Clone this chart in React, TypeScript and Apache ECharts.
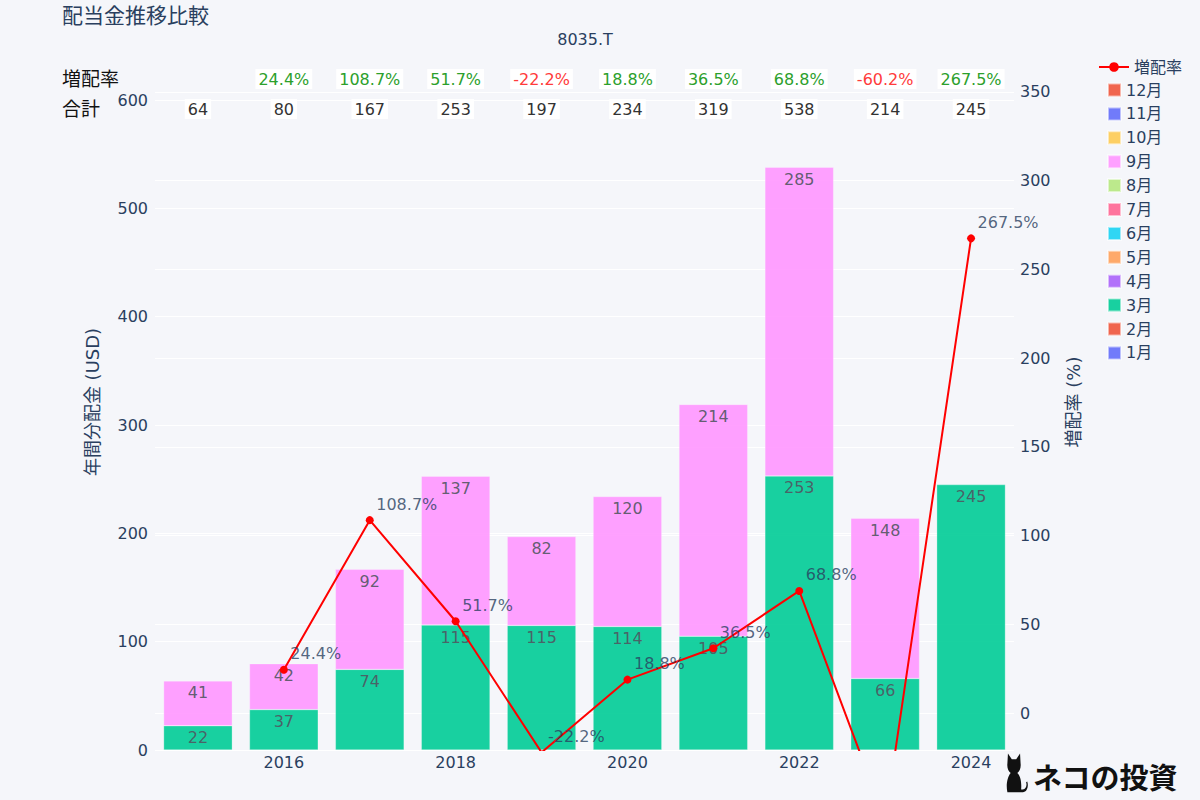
import React, { useEffect, useRef } from "react";
import * as echarts from "echarts";

const years = ["2015", "2016", "2017", "2018", "2019", "2020", "2021", "2022", "2023", "2024"];
const months = ["1月", "2月", "3月", "4月", "5月", "6月", "7月", "8月", "9月", "10月", "11月", "12月"];
const monthColors = ["#636EFA", "#EF553B", "#00CC96", "#AB63FA", "#FFA15A", "#19D3F3", "#FF6692", "#B6E880", "#FF97FF", "#FECB52", "#636EFA", "#EF553B"];
const march = [22.4, 37.3, 74.4, 115.4, 115, 114, 105, 253, 66, 245];
const september = [41.4, 42.4, 92.4, 137.4, 82, 120, 214, 285, 148, null];
const totals = [64, 80, 167, 253, 197, 234, 319, 538, 214, 245];
const growth = [null, 24.4, 108.7, 51.7, -22.2, 18.8, 36.5, 68.8, -60.2, 267.5];
const leftTicks = [0, 100, 200, 300, 400, 500, 600];
const rightTicks = [0, 50, 100, 150, 200, 250, 300, 350];

const LEFT_MIN = 0;
const LEFT_MAX = 642.5;
const RIGHT_MIN = -20.85;
const RIGHT_MAX = 371.4;

const TEXT = "#2a3f5f";
const BG = "#f5f6fa";
const FONT = "'DejaVu Sans', 'Noto Sans CJK JP', sans-serif";

const catPath =
  "M8 16 L9 2 L16 10 L24 10 L31 2 L32 16 C33 22 30 27 26 29 C32 33 34 42 33 52 L36 52 C42 52 44 46 42 42 L44 41 C47 47 44 56 36 56 L8 56 C5 46 8 34 14 29 C10 27 7 22 8 16 Z";
echarts.graphic.registerShape("cat", echarts.graphic.extendPath(catPath, {}) as any);

export default function App() {
  const ref = useRef<HTMLDivElement>(null);
  useEffect(() => {
    document.body.style.margin = "0";
    const chart = echarts.init(ref.current!, null, { renderer: "svg" });
    const monthData: Record<string, (number | null)[]> = {
      "3月": march,
      "9月": september,
    };
    const barSeries = months.map((m, i) => {
      const d = monthData[m] || years.map(() => null);
      const s: any = {
        name: m,
        type: "bar",
        stack: "total",
        yAxisIndex: 0,
        barWidth: "80%",
        data: d,
        itemStyle: { color: monthColors[i], opacity: 0.9, borderColor: "rgba(255,255,255,0.6)", borderWidth: 0.5 },
        label: {
          show: !!monthData[m],
          position: "insideTop",
          distance: 4,
          color: "#505560",
          fontSize: 16,
          fontFamily: FONT,
          formatter: (p: any) => (p.value == null ? "" : String(Math.round(p.value))),
        },
        z: 2,
      };
      if (i === 0) {
        s.markLine = {
          silent: true,
          symbol: "none",
          z: 1,
          label: { show: false },
          lineStyle: { color: "#ffffff", width: 1, type: "solid" },
          data: leftTicks.map((v) => ({ yAxis: v })),
        };
      }
      return s;
    });
    const option: any = {
      animation: false,
      backgroundColor: BG,
      textStyle: { fontFamily: FONT },
      grid: { left: 155, right: 186, top: 54, bottom: 50 },
      legend: [
        {
          data: ["増配率"],
          orient: "vertical",
          left: 1098,
          top: 59,
          padding: 0,
          itemWidth: 30,
          itemHeight: 12,
          textStyle: { color: TEXT, fontSize: 16, fontFamily: FONT },
        },
        {
          data: months.slice().reverse(),
          orient: "vertical",
          left: 1107,
          top: 82,
          padding: 0,
          icon: "rect",
          itemWidth: 13,
          itemHeight: 13,
          itemGap: 7.9,
          textStyle: { color: TEXT, fontSize: 16, fontFamily: FONT },
        },
      ],
      xAxis: {
        type: "category",
        data: years,
        axisLine: { show: false },
        axisTick: { show: false },
        axisLabel: {
          interval: (idx: number) => idx % 2 === 1,
          color: TEXT,
          fontSize: 16,
          margin: 4,
        },
      },
      yAxis: [
        {
          type: "value",
          min: LEFT_MIN,
          max: LEFT_MAX,
          name: "年間分配金 (USD)",
          nameLocation: "middle",
          nameGap: 54,
          nameTextStyle: { color: TEXT, fontSize: 18, fontFamily: FONT },
          axisLine: { show: false },
          axisTick: { show: false },
          axisLabel: { color: TEXT, fontSize: 16, margin: 7, customValues: leftTicks },
          splitLine: { show: false },
        },
        {
          type: "value",
          min: RIGHT_MIN,
          max: RIGHT_MAX,
          name: "増配率 (%)",
          nameLocation: "middle",
          nameGap: 50,
          nameTextStyle: { color: TEXT, fontSize: 18, fontFamily: FONT },
          axisLine: { show: false },
          axisTick: { show: false },
          axisLabel: { color: TEXT, fontSize: 16, margin: 6, customValues: rightTicks },
          splitLine: { show: false },
        },
      ],
      series: [
        ...barSeries,
        {
          name: "増配率",
          type: "line",
          yAxisIndex: 1,
          data: growth,
          connectNulls: false,
          symbol: "circle",
          symbolSize: 8,
          lineStyle: { color: "#ff0000", width: 2 },
          itemStyle: { color: "#ff0000" },
          clip: true,
          z: 4,
        },
        {
          name: "_labels",
          type: "scatter",
          yAxisIndex: 1,
          data: growth,
          symbolSize: 1,
          itemStyle: { color: "rgba(0,0,0,0)" },
          clip: false,
          silent: true,
          z: 5,
          label: {
            show: true,
            position: "right",
            distance: 6,
            offset: [0, -16],
            color: TEXT,
            fontSize: 16,
            fontFamily: FONT,
            formatter: (p: any) => (p.value == null || p.value < RIGHT_MIN - 10 ? "" : `${p.value}%`),
          },
          markLine: {
            silent: true,
            symbol: "none",
            z: 1,
            label: { show: false },
            lineStyle: { color: "#ffffff", width: 1, type: "solid" },
            data: rightTicks.map((v) => ({ yAxis: v })),
          },
        },
      ],
    };
    chart.setOption(option);

    const graphics: any[] = [
      {
        type: "text",
        left: 62,
        top: 5,
        style: { text: "配当金推移比較", fill: TEXT, font: `21px ${FONT}` },
      },
      {
        type: "text",
        x: 585,
        y: 39,
        style: { text: "8035.T", fill: TEXT, font: `16px ${FONT}`, align: "center", verticalAlign: "middle" },
      },
      {
        type: "text",
        x: 62,
        y: 79,
        style: { text: "増配率", fill: "#111", font: `19px ${FONT}`, verticalAlign: "middle" },
      },
      {
        type: "text",
        x: 62,
        y: 109,
        style: { text: "合計", fill: "#111", font: `19px ${FONT}`, verticalAlign: "middle" },
      },
      {
        type: "cat",
        x: 1003,
        y: 752,
        scaleX: 0.55,
        scaleY: 0.72,
        style: { fill: "#111" },
      },
      {
        type: "text",
        x: 1033,
        y: 776,
        style: { text: "ネコの投資", fill: "#111", font: `bold 29px 'Noto Sans CJK JP', sans-serif`, verticalAlign: "middle" },
      },
    ];
    years.forEach((y, i) => {
      const x = chart.convertToPixel({ xAxisIndex: 0 }, y) as number;
      const g = growth[i];
      if (g != null) {
        graphics.push({
          type: "text",
          x,
          y: 79,
          style: {
            text: `${g}%`,
            fill: g >= 0 ? "#2ca02c" : "#ff3b3b",
            font: `16px ${FONT}`,
            align: "center",
            verticalAlign: "middle",
            backgroundColor: "#ffffff",
            padding: [2, 3],
          },
        });
      }
      graphics.push({
        type: "text",
        x,
        y: 109,
        style: {
          text: String(totals[i]),
          fill: "#333",
          font: `16px ${FONT}`,
          align: "center",
          verticalAlign: "middle",
          backgroundColor: "#ffffff",
          padding: [2, 3],
        },
      });
    });
    chart.setOption({ graphic: graphics });
    return () => chart.dispose();
  }, []);
  return <div ref={ref} style={{ width: 1200, height: 800 }} />;
}
